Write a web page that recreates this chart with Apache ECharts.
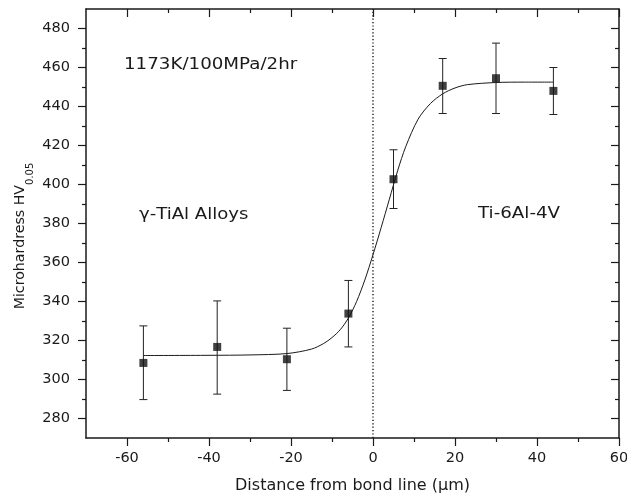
<!DOCTYPE html>
<html>
<head>
<meta charset="utf-8">
<script src="https://cdn.jsdelivr.net/npm/echarts@6/dist/echarts.min.js"></script>
<style>
html,body{margin:0;padding:0;background:#fff;}
#chart{width:627px;height:504px;}
</style>
</head>
<body>
<div id="chart"></div>
<script>
// Measured points (distance from bond line, µm) and microhardness
var xPos = [-56, -38, -21, -6, 5, 17, 30, 44];
var hardness = [308.5, 316.7, 310.4, 333.8, 402.7, 450.6, 454.5, 448];
var errLow = [289.7, 292.5, 294.4, 316.7, 387.7, 436.4, 436.4, 435.9];
var errHigh = [327.5, 340.3, 326.3, 350.8, 417.8, 464.6, 472.5, 460];

// Fitted curve
var fitX = [-56, -40, -30, -21, -15, -12, -10, -8, -6, -4, -2, 0, 2, 4, 6, 8, 11, 14, 17, 20, 23, 30, 37, 44];
var fitY = [312.3, 312.4, 312.6, 313.3, 315.6, 318.5, 321.5, 325.5, 331.5, 340, 351, 364, 378, 392.5, 407, 419.5, 433.5, 441.5, 446.5, 449.5, 451.2, 452.3, 452.5, 452.5];

// Bond line position
var bondLine = [0];

// Tick values
var xMajor = [-60, -40, -20, 0, 20, 40, 60];
var xMinor = [-50, -30, -10, 10, 30, 50];
var yMajor = [280, 300, 320, 340, 360, 380, 400, 420, 440, 460, 480];
var yMinor = [290, 310, 330, 350, 370, 390, 410, 430, 450, 470];

var FONT = 'DejaVu Sans';
var INK = '#1a1a1a';

var chart = echarts.init(document.getElementById('chart'), null, {renderer: 'canvas'});

var pts = xPos.map(function (x, i) { return [x, hardness[i]]; });
var errs = xPos.map(function (x, i) { return [x, hardness[i], errLow[i], errHigh[i]]; });
var fit = fitX.map(function (x, i) { return [x, fitY[i]]; });

function xAx(pos, vals, len, inside, showLine, showLabel, extra) {
  var a = {
    type: 'value', position: pos, min: -70, max: 60, gridIndex: 0,
    axisLine: {show: showLine, onZero: false, lineStyle: {color: INK, width: 1.5}},
    axisTick: {show: true, inside: inside, length: len, customValues: vals, lineStyle: {color: INK, width: 1.2}},
    axisLabel: {show: showLabel, customValues: xMajor, color: INK, fontFamily: FONT, fontSize: 14.5, margin: 13},
    splitLine: {show: false}
  };
  if (extra) for (var k in extra) a[k] = extra[k];
  return a;
}
function yAx(pos, vals, len, inside, showLine, showLabel) {
  return {
    type: 'value', position: pos, min: 270, max: 490, gridIndex: 0,
    axisLine: {show: showLine, onZero: false, lineStyle: {color: INK, width: 1.5}},
    axisTick: {show: true, inside: inside, length: len, customValues: vals, lineStyle: {color: INK, width: 1.2}},
    axisLabel: {show: showLabel, customValues: yMajor, color: INK, fontFamily: FONT, fontSize: 14.5, margin: 16},
    splitLine: {show: false}
  };
}

var option = {
  animation: false,
  backgroundColor: '#fff',
  grid: {left: 86, right: 8, top: 9, bottom: 66, containLabel: false, outerBoundsMode: 'none'},
  xAxis: [
    xAx('bottom', xMajor, 8, false, true, true, {
      name: 'Distance from bond line (\u03bcm)', nameLocation: 'middle', nameGap: 40,
      nameTextStyle: {color: INK, fontFamily: FONT, fontSize: 16}
    }),
    xAx('bottom', xMinor, 4, false, false, false),
    xAx('top', xMajor, 8, true, true, false),
    xAx('top', xMinor, 4, true, false, false)
  ],
  yAxis: [
    yAx('left', yMajor, 8, false, true, true),
    yAx('left', yMinor, 4, false, false, false),
    yAx('right', yMajor, 8, true, true, false),
    yAx('right', yMinor, 4, true, false, false)
  ],
  graphic: [
    {type: 'text', x: 124, y: 65, scaleX: 1.14, silent: true,
     style: {text: '1173K/100MPa/2hr', fontFamily: FONT, fontSize: 16, fill: INK, align: 'left', verticalAlign: 'middle'}},
    {type: 'text', x: 139, y: 215, scaleX: 1.13, silent: true,
     style: {text: '\u03b3-TiAl Alloys', fontFamily: FONT, fontSize: 16, fill: INK, align: 'left', verticalAlign: 'middle'}},
    {type: 'text', x: 478, y: 214, scaleX: 1.14, silent: true,
     style: {text: 'Ti-6Al-4V', fontFamily: FONT, fontSize: 16, fill: INK, align: 'left', verticalAlign: 'middle'}},
    {type: 'text', x: 21, y: 236, rotation: Math.PI / 2, silent: true,
     style: {
       text: '{a|Microhardress HV}{b|0.05}', align: 'center', verticalAlign: 'middle', fill: INK,
       rich: {
         a: {fontFamily: FONT, fontSize: 14.2, lineHeight: 16, verticalAlign: 'top', fill: INK},
         b: {fontFamily: FONT, fontSize: 10, lineHeight: 10, padding: [12, 0, 0, 0], verticalAlign: 'top', fill: INK}
       }
     }}
  ],
  series: [
    {
      type: 'line', name: 'fit', data: fit, xAxisIndex: 0, yAxisIndex: 0,
      showSymbol: false, smooth: 0.3,
      lineStyle: {color: INK, width: 1}, itemStyle: {color: INK}, z: 3,
      markLine: {
        silent: true, symbol: 'none', animation: false,
        label: {show: false},
        lineStyle: {color: '#222', width: 1.5, type: [1.2, 2.2]},
        data: bondLine.map(function (v) { return {xAxis: v}; })
      }
    },
    {
      type: 'custom', name: 'err', data: errs, xAxisIndex: 0, yAxisIndex: 0,
      encode: {x: 0, y: [1, 2, 3]}, z: 4,
      renderItem: function (params, api) {
        var x = api.value(0);
        var top = api.coord([x, api.value(3)]);
        var bot = api.coord([x, api.value(2)]);
        var hw = 4;
        var st = {stroke: '#222', lineWidth: 1};
        return {
          type: 'group',
          children: [
            {type: 'line', shape: {x1: top[0], y1: top[1], x2: bot[0], y2: bot[1]}, style: st},
            {type: 'line', shape: {x1: top[0] - hw, y1: top[1], x2: top[0] + hw, y2: top[1]}, style: st},
            {type: 'line', shape: {x1: bot[0] - hw, y1: bot[1], x2: bot[0] + hw, y2: bot[1]}, style: st}
          ]
        };
      }
    },
    {
      type: 'scatter', name: 'HV', data: pts, xAxisIndex: 0, yAxisIndex: 0,
      symbol: 'rect', symbolSize: 8, itemStyle: {color: '#111'}, z: 5
    }
  ]
};
chart.setOption(option);
</script>
</body>
</html>
